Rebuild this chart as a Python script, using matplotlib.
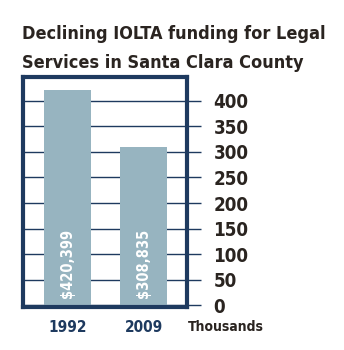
import matplotlib.pyplot as plt
import matplotlib as mpl

# Data
years = ['1992', '2009']
funding = [420.399, 308.835]  # thousands of dollars
bar_labels = ['$420,399', '$308,835']
yticks = [0, 50, 100, 150, 200, 250, 300, 350, 400]
title_lines = ['Declining IOLTA funding for Legal', 'Services in Santa Clara County']

navy = '#1e3a5f'
bar_col = '#97b4c0'
ink = '#2a2420'

plt.rcParams['font.family'] = ['DejaVu Sans']
plt.rcParams['font.weight'] = 'bold'
plt.rcParams['font.stretch'] = 'condensed'

W, H = 344, 350
fig = plt.figure(figsize=(W / 100, H / 100), dpi=100)
fig.patch.set_facecolor('white')

# axes box in pixels
left, right, top, bottom = 23, 187, 77, 307
ax = fig.add_axes([left / W, 1 - bottom / H, (right - left) / W, (bottom - top) / H])

xpos = list(range(len(years)))
ax.bar(xpos, funding, width=0.62, color=bar_col, zorder=2)
ax.set_xlim(-0.586, 1.572)
ax.set_ylim(-3, 446)

ax.set_yticks(yticks)
ax.grid(axis='y', color=navy, linewidth=1, zorder=1)
ax.yaxis.tick_right()
ax.tick_params(axis='y', direction='out', length=10, width=1, color=navy,
               pad=9, labelsize=13.5, labelcolor=ink)

ax.set_xticks(xpos)
ax.set_xticklabels(years, color=navy, fontsize=11, fontweight='bold')
ax.tick_params(axis='x', length=0, pad=9)

for s in ax.spines.values():
    s.set_color(navy)
    s.set_linewidth(3)
    s.set_zorder(3)

for x, lab in zip(xpos, bar_labels):
    ax.text(x, 14, lab, rotation=90, ha='center', va='bottom', color='white',
            fontsize=10.5, fontweight='bold', zorder=4)

fig.text(188 / W, 1 - 327 / H, 'Thousands', ha='left', va='center',
         fontsize=10, color=ink, fontweight='bold')

# title, shrunk to fit the width of the first line in the original
t1 = fig.text(22 / W, 1 - 39 / H, title_lines[0], ha='left', va='baseline',
              fontsize=18, color=ink, fontweight='bold')
t2 = fig.text(22 / W, 1 - 68 / H, title_lines[1], ha='left', va='baseline',
              fontsize=18, color=ink, fontweight='bold')
r = fig.canvas.get_renderer()
fs = 18 * 303 / t1.get_window_extent(r).width
t1.set_fontsize(fs)
t2.set_fontsize(fs)

fig.savefig('out.png', dpi=100)
